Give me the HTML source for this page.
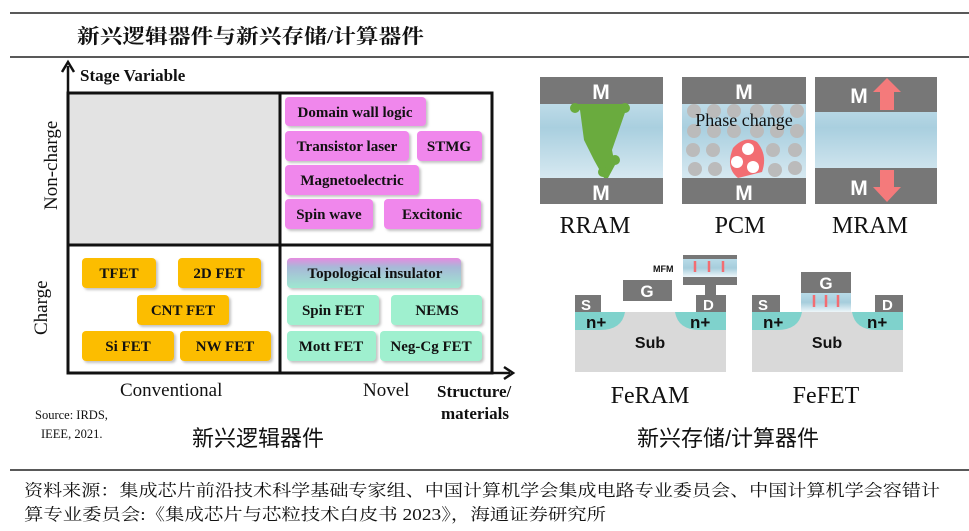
<!DOCTYPE html>
<html><head><meta charset="utf-8"><style>
body{margin:0;background:#fff;}
svg{display:block}
.b{font-family:"Liberation Serif",serif;font-weight:bold;fill:#111}
.s{font-family:"Liberation Serif",serif;fill:#111}
.a{font-family:"Liberation Sans",sans-serif;font-weight:bold;fill:#fff}
.c{font-family:"Liberation Sans","Noto Sans CJK SC",sans-serif;fill:#111}
.f{font-family:"Liberation Serif","Noto Serif CJK SC",serif;fill:#111}
</style></head><body>
<svg width="969" height="531" viewBox="0 0 969 531" xmlns="http://www.w3.org/2000/svg">
<defs>
<linearGradient id="fe" x1="0" y1="0" x2="0" y2="1"><stop offset="0" stop-color="#b8dbe8"/><stop offset="0.5" stop-color="#a6cddc"/><stop offset="1" stop-color="#eef6fa"/></linearGradient>
<linearGradient id="ox" x1="0" y1="0" x2="0" y2="1"><stop offset="0" stop-color="#d5e9f2"/><stop offset="0.4" stop-color="#a9cfdf"/><stop offset="1" stop-color="#eef6fa"/></linearGradient>
<linearGradient id="topo" x1="0" y1="0" x2="0" y2="1"><stop offset="0" stop-color="#e58be0"/><stop offset="0.3" stop-color="#a8b8d8"/><stop offset="1" stop-color="#9ee8d0"/></linearGradient>
<filter id="sh"><feDropShadow dx="2" dy="2" stdDeviation="1.2" flood-color="#999" flood-opacity="0.6"/></filter>
</defs>
<line x1="10" y1="13" x2="969" y2="13" stroke="#222" stroke-width="1.5"/>
<text x="77" y="43" class="f" font-size="20" font-weight="bold" textLength="347" lengthAdjust="spacingAndGlyphs">新兴逻辑器件与新兴存储/计算器件</text>
<line x1="10" y1="57" x2="969" y2="57" stroke="#222" stroke-width="1.5"/>

<!-- quadrant -->
<rect x="68" y="93" width="212" height="152" fill="#e3e3e3"/>
<rect x="68" y="93" width="424" height="280" fill="none" stroke="#111" stroke-width="3"/>
<line x1="280" y1="93" x2="280" y2="373" stroke="#111" stroke-width="3"/>
<line x1="68" y1="245" x2="492" y2="245" stroke="#111" stroke-width="3"/>
<line x1="68" y1="373" x2="68" y2="66" stroke="#111" stroke-width="2.5"/>
<path d="M62 72 L68 62 L74 72" fill="none" stroke="#111" stroke-width="2.5"/>
<line x1="68" y1="373" x2="510" y2="373" stroke="#111" stroke-width="2.5"/>
<path d="M504 367 L513 373 L504 379" fill="none" stroke="#111" stroke-width="2.5"/>
<text x="80" y="81" class="b" font-size="17">Stage Variable</text>
<text class="s" font-size="19" transform="translate(57,210) rotate(-90)">Non-charge</text>
<text class="s" font-size="19" transform="translate(47,335) rotate(-90)">Charge</text>
<text x="120" y="396" class="s" font-size="19">Conventional</text>
<text x="363" y="396" class="s" font-size="19">Novel</text>
<text x="437" y="397" class="b" font-size="17">Structure/</text>
<text x="441" y="419" class="b" font-size="17">materials</text>
<text x="35" y="419" class="s" font-size="12.5">Source: IRDS,</text>
<text x="41" y="438" class="s" font-size="12.5">IEEE, 2021.</text>
<text x="192" y="446" class="c" font-size="22">新兴逻辑器件</text>

<g filter="url(#sh)">
<g fill="#f087ec">
<rect x="285" y="97" width="141" height="29" rx="4"/>
<rect x="285" y="131" width="124" height="30" rx="4"/>
<rect x="417" y="131" width="65" height="30" rx="4"/>
<rect x="285" y="165" width="134" height="30" rx="4"/>
<rect x="285" y="199" width="88" height="30" rx="4"/>
<rect x="384" y="199" width="97" height="30" rx="4"/>
</g>
<g fill="#fcbd00">
<rect x="82" y="258" width="74" height="30" rx="4"/>
<rect x="178" y="258" width="83" height="30" rx="4"/>
<rect x="137" y="295" width="92" height="30" rx="4"/>
<rect x="82" y="331" width="92" height="30" rx="4"/>
<rect x="180" y="331" width="91" height="30" rx="4"/>
</g>
<rect x="287" y="258" width="174" height="30" rx="4" fill="url(#topo)"/>
<g fill="#9ff0cf">
<rect x="287" y="295" width="92" height="30" rx="4"/>
<rect x="391" y="295" width="91" height="30" rx="4"/>
<rect x="287" y="331" width="89" height="30" rx="4"/>
<rect x="380" y="331" width="102" height="30" rx="4"/>
</g>
</g>
<g class="b" text-anchor="middle" font-size="15">
<text x="355" y="117">Domain wall logic</text>
<text x="347" y="151">Transistor laser</text>
<text x="449" y="151">STMG</text>
<text x="352" y="185">Magnetoelectric</text>
<text x="329" y="219">Spin wave</text>
<text x="432" y="219">Excitonic</text>
<text x="119" y="278">TFET</text>
<text x="219" y="278">2D FET</text>
<text x="183" y="315">CNT FET</text>
<text x="128" y="351">Si FET</text>
<text x="225" y="351">NW FET</text>
<text x="375" y="278">Topological insulator</text>
<text x="333" y="315">Spin FET</text>
<text x="437" y="315">NEMS</text>
<text x="331" y="351">Mott FET</text>
<text x="431" y="351">Neg-Cg FET</text>
</g>

<!-- RRAM -->
<rect x="540" y="77" width="123" height="127" fill="url(#ox)"/>
<rect x="540" y="77" width="123" height="27" fill="#777"/>
<rect x="540" y="178" width="123" height="26" fill="#777"/>
<path d="M572 104 L628 104 L612 150 L615 165 L608 178 L604 178 L594 160 L584 140 L580 110 Z" fill="#6aab3e"/>
<circle cx="575" cy="108" r="5" fill="#6aab3e"/><circle cx="625" cy="108" r="5" fill="#6aab3e"/>
<circle cx="615" cy="160" r="5" fill="#6aab3e"/><circle cx="603" cy="172" r="5" fill="#6aab3e"/>
<text x="601" y="99" class="a" font-size="21" text-anchor="middle">M</text>
<text x="601" y="200" class="a" font-size="21" text-anchor="middle">M</text>
<!-- PCM -->
<rect x="682" y="77" width="124" height="127" fill="url(#ox)"/>
<g fill="#bbb">
<circle cx="694" cy="111" r="7"/><circle cx="714" cy="111" r="7"/><circle cx="734" cy="111" r="7"/><circle cx="757" cy="111" r="7"/><circle cx="777" cy="111" r="7"/><circle cx="797" cy="111" r="7"/>
<circle cx="694" cy="131" r="7"/><circle cx="714" cy="131" r="7"/><circle cx="734" cy="131" r="7"/><circle cx="757" cy="131" r="7"/><circle cx="777" cy="131" r="7"/><circle cx="797" cy="131" r="7"/>
<circle cx="693" cy="150" r="7"/><circle cx="713" cy="150" r="7"/><circle cx="773" cy="150" r="7"/><circle cx="795" cy="150" r="7"/>
<circle cx="695" cy="169" r="7"/><circle cx="715" cy="169" r="7"/><circle cx="775" cy="170" r="7"/><circle cx="795" cy="168" r="7"/>
</g>
<path d="M733 148 Q745 135 757 142 Q768 155 762 172 L738 178 Q725 168 733 148 Z" fill="#f26d72"/>
<circle cx="748" cy="149" r="6" fill="#fff"/><circle cx="737" cy="162" r="6" fill="#fff"/><circle cx="753" cy="167" r="6" fill="#fff"/>
<rect x="682" y="77" width="124" height="27" fill="#777"/>
<rect x="682" y="178" width="124" height="26" fill="#777"/>
<text x="744" y="126" class="s" font-size="18" text-anchor="middle">Phase change</text>
<text x="744" y="99" class="a" font-size="21" text-anchor="middle">M</text>
<text x="744" y="200" class="a" font-size="21" text-anchor="middle">M</text>
<!-- MRAM -->
<rect x="815" y="77" width="122" height="127" fill="url(#ox)"/>
<rect x="815" y="77" width="122" height="35" fill="#777"/>
<rect x="815" y="168" width="122" height="36" fill="#777"/>
<text x="859" y="103" class="a" font-size="21" text-anchor="middle">M</text>
<text x="859" y="195" class="a" font-size="21" text-anchor="middle">M</text>
<path d="M880 110 L880 92 L873 92 L887 78 L901 92 L894 92 L894 110 Z" fill="#f47a7b"/>
<path d="M880 170 L880 187 L873 187 L887 202 L901 187 L894 187 L894 170 Z" fill="#f47a7b"/>
<g class="s" font-size="24" text-anchor="middle">
<text x="595" y="233">RRAM</text><text x="740" y="233">PCM</text><text x="870" y="233">MRAM</text>
<text x="650" y="403">FeRAM</text><text x="826" y="403">FeFET</text>
</g>
<!-- FeRAM -->
<rect x="575" y="312" width="151" height="60" fill="#d9d9d9"/>
<path d="M575 312 L625 312 Q622 330 600 330 L575 330 Z" fill="#7fd2cc"/>
<path d="M726 312 L675 312 Q678 330 700 330 L726 330 Z" fill="#7fd2cc"/>
<rect x="575" y="295" width="26" height="17" fill="#777"/>
<rect x="696" y="295" width="30" height="17" fill="#777"/>
<rect x="705" y="284" width="11" height="12" fill="#777"/>
<rect x="623" y="280" width="49" height="21" fill="#777"/>
<rect x="683" y="255" width="54" height="4" fill="#777"/>
<rect x="683" y="259" width="54" height="18" fill="url(#fe)"/>
<rect x="683" y="277" width="54" height="8" fill="#777"/>
<g stroke="#f26d72" stroke-width="2.5" fill="#f26d72">
<line x1="695" y1="261" x2="695" y2="272"/><line x1="709" y1="261" x2="709" y2="272"/><line x1="723" y1="261" x2="723" y2="272"/>
</g>
<text x="653" y="272" class="c" font-size="9" font-weight="bold">MFM</text>
<text x="581" y="310" class="a" font-size="15">S</text>
<text x="703" y="310" class="a" font-size="15">D</text>
<text x="647" y="297" class="a" font-size="17" text-anchor="middle">G</text>
<text x="586" y="328" class="c" font-size="17" font-weight="bold">n+</text>
<text x="690" y="328" class="c" font-size="17" font-weight="bold">n+</text>
<text x="650" y="348" class="c" font-size="16" font-weight="bold" text-anchor="middle">Sub</text>
<!-- FeFET -->
<rect x="752" y="312" width="151" height="60" fill="#d9d9d9"/>
<path d="M752 312 L802 312 Q799 330 777 330 L752 330 Z" fill="#7fd2cc"/>
<path d="M903 312 L852 312 Q855 330 877 330 L903 330 Z" fill="#7fd2cc"/>
<rect x="752" y="295" width="28" height="17" fill="#777"/>
<rect x="875" y="295" width="28" height="17" fill="#777"/>
<rect x="801" y="272" width="50" height="21" fill="#777"/>
<rect x="801" y="293" width="50" height="19" fill="url(#fe)"/>
<g stroke="#f26d72" stroke-width="2.5">
<line x1="814" y1="295" x2="814" y2="307"/><line x1="826" y1="295" x2="826" y2="307"/><line x1="838" y1="295" x2="838" y2="307"/>
</g>
<text x="758" y="310" class="a" font-size="15">S</text>
<text x="882" y="310" class="a" font-size="15">D</text>
<text x="826" y="289" class="a" font-size="17" text-anchor="middle">G</text>
<text x="763" y="328" class="c" font-size="17" font-weight="bold">n+</text>
<text x="867" y="328" class="c" font-size="17" font-weight="bold">n+</text>
<text x="827" y="348" class="c" font-size="16" font-weight="bold" text-anchor="middle">Sub</text>
<text x="728" y="446" class="c" font-size="22" text-anchor="middle">新兴存储/计算器件</text>

<line x1="10" y1="470" x2="969" y2="470" stroke="#222" stroke-width="1.5"/>
<text x="24" y="496" class="f" font-size="16.5" textLength="916" lengthAdjust="spacingAndGlyphs">资料来源：集成芯片前沿技术科学基础专家组、中国计算机学会集成电路专业委员会、中国计算机学会容错计</text>
<text x="24" y="520" class="f" font-size="16.5" textLength="582" lengthAdjust="spacingAndGlyphs">算专业委员会:《集成芯片与芯粒技术白皮书 2023》，海通证券研究所</text>
</svg>
</body></html>
